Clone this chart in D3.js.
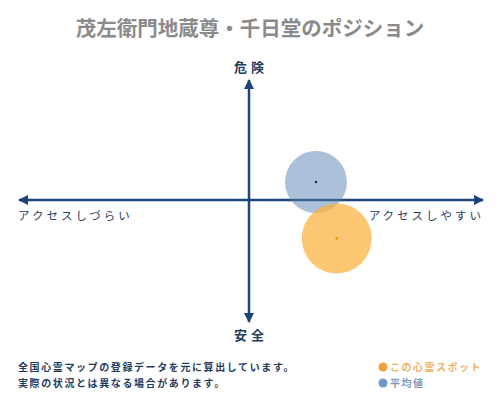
<!DOCTYPE html>
<html>
<head>
<meta charset="utf-8">
<script src="https://cdn.jsdelivr.net/npm/d3@7"></script>
<style>
  body { margin: 0; background: #fff; }
  text { font-family: "Noto Sans CJK JP", sans-serif; }
</style>
</head>
<body>
<div id="chart"></div>
<script>
// chart data
var title = "茂左衛門地蔵尊・千日堂のポジション";
var seriesNames = ["この心霊スポット", "平均値"];
var accessValues = [1.9, 1.45];   // x: + = アクセスしやすい
var dangerValues = [-1.6, 0.75];  // y: + = 危険
var axisLabels = ["危険", "安全", "アクセスしづらい", "アクセスしやすい"];
var notes = ["全国心霊マップの登録データを元に算出しています。", "実際の状況とは異なる場合があります。"];

var width = 500, height = 400;
var navy = "#1d4677", textNavy = "#1f3d5e";
var fills = ["#fbb03b", "#5b82b3"];
var opac = [0.72, 0.5];
var dotColors = ["#f08c00", "#1f2d3d"];
var radii = [35, 31];

var svg = d3.select("#chart")
  .append("svg")
  .attr("width", width)
  .attr("height", height);

var x = d3.scaleLinear().domain([-5, 5]).range([18, 480]);
var y = d3.scaleLinear().domain([-5, 5]).range([320, 80]);

// title
svg.append("text")
  .attr("x", width / 2)
  .attr("y", 36)
  .attr("text-anchor", "middle")
  .attr("font-size", 20.5)
  .attr("font-weight", "bold")
  .attr("fill", "#8a8a8a")
  .text(title);

// arrow marker
var defs = svg.append("defs");
defs.append("marker")
  .attr("id", "arrow")
  .attr("viewBox", "0 0 10 10")
  .attr("refX", 9)
  .attr("refY", 5)
  .attr("markerWidth", 4)
  .attr("markerHeight", 4)
  .attr("orient", "auto-start-reverse")
  .append("path")
  .attr("d", "M0,0 L10,5 L0,10 z")
  .attr("fill", navy);

// axes
svg.append("line")
  .attr("x1", x(-5) + 1).attr("x2", x(5) + 3)
  .attr("y1", y(0)).attr("y2", y(0))
  .attr("stroke", navy).attr("stroke-width", 2.5)
  .attr("marker-start", "url(#arrow)")
  .attr("marker-end", "url(#arrow)");

svg.append("line")
  .attr("x1", x(0)).attr("x2", x(0))
  .attr("y1", y(5)).attr("y2", y(-5) + 2)
  .attr("stroke", navy).attr("stroke-width", 2.5)
  .attr("marker-start", "url(#arrow)")
  .attr("marker-end", "url(#arrow)");

// axis labels
svg.append("text")
  .attr("x", x(0) + 2).attr("y", 72)
  .attr("text-anchor", "middle")
  .attr("font-size", 13).attr("font-weight", "bold")
  .attr("letter-spacing", 4)
  .attr("fill", textNavy)
  .text(axisLabels[0]);

svg.append("text")
  .attr("x", x(0) + 2).attr("y", 340)
  .attr("text-anchor", "middle")
  .attr("font-size", 13).attr("font-weight", "bold")
  .attr("letter-spacing", 4)
  .attr("fill", textNavy)
  .text(axisLabels[1]);

svg.append("text")
  .attr("x", 18).attr("y", 220)
  .attr("font-size", 11.5)
  .attr("letter-spacing", 3)
  .attr("fill", textNavy)
  .text(axisLabels[2]);

svg.append("text")
  .attr("x", 484).attr("y", 220)
  .attr("text-anchor", "end")
  .attr("font-size", 11.5)
  .attr("letter-spacing", 3)
  .attr("fill", textNavy)
  .text(axisLabels[3]);

// bubbles (average drawn first, then this spot)
var order = [1, 0];
svg.selectAll("circle.bubble")
  .data(order)
  .enter()
  .append("circle")
  .attr("class", "bubble")
  .attr("cx", function (i) { return x(accessValues[i]); })
  .attr("cy", function (i) { return y(dangerValues[i]); })
  .attr("r", function (i) { return radii[i]; })
  .style("fill", function (i) { return fills[i]; })
  .style("opacity", function (i) { return opac[i]; });

svg.selectAll("circle.center")
  .data(order)
  .enter()
  .append("circle")
  .attr("class", "center")
  .attr("cx", function (i) { return x(accessValues[i]); })
  .attr("cy", function (i) { return y(dangerValues[i]); })
  .attr("r", 1.3)
  .style("fill", function (i) { return dotColors[i]; });

// notes
svg.selectAll("text.note")
  .data(notes)
  .enter()
  .append("text")
  .attr("class", "note")
  .attr("x", 18)
  .attr("y", function (d, i) { return 371 + i * 16; })
  .attr("font-size", 10)
  .attr("font-weight", "bold")
  .attr("letter-spacing", 1.6)
  .attr("fill", textNavy)
  .text(function (d) { return d; });

// legend
var legendText = ["#f0b060", "#7a9cc0"];
var legendDot = ["#f0a040", "#6f98c4"];
var legend = svg.selectAll("g.legend")
  .data(seriesNames)
  .enter()
  .append("g")
  .attr("class", "legend")
  .attr("transform", function (d, i) { return "translate(383," + (367 + i * 16) + ")"; });

legend.append("circle")
  .attr("r", 4.5)
  .style("fill", function (d, i) { return legendDot[i]; });

legend.append("text")
  .attr("x", 7)
  .attr("y", 4)
  .attr("font-size", 10)
  .attr("font-weight", "bold")
  .attr("letter-spacing", 1.5)
  .attr("fill", function (d, i) { return legendText[i]; })
  .text(function (d) { return d; });
</script>
</body>
</html>
